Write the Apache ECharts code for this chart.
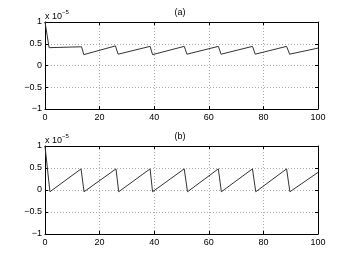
<!DOCTYPE html>
<html><head><meta charset="utf-8">
<script src="https://cdn.jsdelivr.net/npm/echarts@6/dist/echarts.min.js"></script>
<style>html,body{margin:0;padding:0;background:#fff}#c{width:350px;height:264px}</style>
</head><body><div id="c"></div>
<script>
const xTicks = [0, 20, 40, 60, 80, 100];
const yTicks = [-1, -0.5, 0, 0.5, 1];
const titles = ['(a)', '(b)'];
const xA = [0, 1.5, 13.4, 14.2, 25.8, 26.8, 38.5, 39.4, 51, 52, 63.5, 64.5, 76, 77, 88.5, 89.6, 100];
const yA = [1, 0.41, 0.43, 0.25, 0.45, 0.26, 0.44, 0.25, 0.44, 0.26, 0.44, 0.26, 0.44, 0.26, 0.44, 0.26, 0.40];
const xB = [0, 1.8, 13.2, 14.3, 26, 27, 38.5, 39.4, 51, 52.2, 63.5, 64.6, 76, 77.2, 88.5, 89.7, 100];
const yB = [1, -0.04, 0.48, -0.04, 0.48, -0.04, 0.48, -0.04, 0.48, -0.04, 0.48, -0.04, 0.48, -0.04, 0.48, -0.04, 0.40];

const FONT = 'Liberation Sans';
const chart = echarts.init(document.getElementById('c'), null, {renderer: 'canvas'});
const grids = [
  {left: 45, top: 22, width: 273, height: 87},
  {left: 45, top: 146, width: 273, height: 88}
];
const fmtY = v => (v < 0 ? '\u2212' + Math.abs(v) : String(v));
const xAxes = [], yAxes = [], series = [];
grids.forEach((g, i) => {
  xAxes.push({gridIndex: i, type: 'value', min: 0, max: 100, interval: 20, position: 'bottom',
    axisLine: {show: true, onZero: false, lineStyle: {color: '#000', width: 1}},
    axisTick: {show: true, inside: true, length: 3, lineStyle: {color: '#000'}},
    axisLabel: {show: true, color: '#000', fontSize: 9, fontFamily: FONT, margin: 4},
    splitLine: {show: true, lineStyle: {color: '#aaa', type: [1, 2], width: 1}}});
  xAxes.push({gridIndex: i, type: 'value', min: 0, max: 100, interval: 20, position: 'top',
    axisLine: {show: true, onZero: false, lineStyle: {color: '#000', width: 1}},
    axisTick: {show: true, inside: true, length: 3, lineStyle: {color: '#000'}},
    axisLabel: {show: false}, splitLine: {show: false}});
  yAxes.push({gridIndex: i, type: 'value', min: -1, max: 1, interval: 0.5, position: 'left',
    axisLine: {show: true, onZero: false, lineStyle: {color: '#000', width: 1}},
    axisTick: {show: true, inside: true, length: 3, lineStyle: {color: '#000'}},
    axisLabel: {show: true, color: '#000', fontSize: 9, fontFamily: FONT, margin: 3, formatter: fmtY},
    splitLine: {show: true, lineStyle: {color: '#aaa', type: [1, 2], width: 1}}});
  yAxes.push({gridIndex: i, type: 'value', min: -1, max: 1, interval: 0.5, position: 'right',
    axisLine: {show: true, onZero: false, lineStyle: {color: '#000', width: 1}},
    axisTick: {show: true, inside: true, length: 3, lineStyle: {color: '#000'}},
    axisLabel: {show: false}, splitLine: {show: false}});
});
const data = [[xA, yA], [xB, yB]];
data.forEach((d, i) => {
  series.push({type: 'line', xAxisIndex: i * 2, yAxisIndex: i * 2, symbol: 'none',
    lineStyle: {color: '#333', width: 1}, animation: false,
    data: d[0].map((x, k) => [x, d[1][k]])});
});
const graphics = [];
grids.forEach((g, i) => {
  graphics.push({type: 'text', left: 181.5 - 7, top: g.top - 14,
    style: {text: titles[i], font: '9px ' + FONT, fill: '#000'}});
  graphics.push({type: 'text', left: 45, top: g.top - 13,
    style: {text: '{a|x 10}{b|\u22125}', fill: '#000',
      rich: {a: {fontSize: 9, fontFamily: FONT, verticalAlign: 'bottom'},
             b: {fontSize: 6, fontFamily: FONT, padding: [0, 0, 6, 0], verticalAlign: 'top'}}}});
});
chart.setOption({
  animation: false,
  grid: grids.map(g => Object.assign({show: false}, g)),
  xAxis: xAxes, yAxis: yAxes, series: series, graphic: graphics
});
</script></body></html>
